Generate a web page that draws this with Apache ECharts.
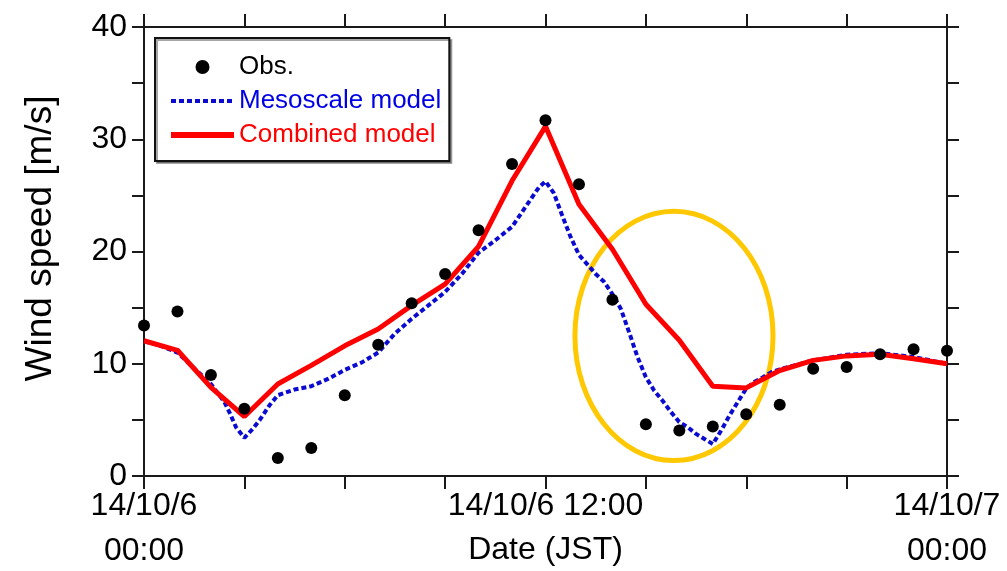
<!DOCTYPE html>
<html>
<head>
<meta charset="utf-8">
<script src="https://cdn.jsdelivr.net/npm/echarts@6/dist/echarts.min.js"></script>
<style>
  html, body { margin: 0; padding: 0; background: #fff; }
  #myChart { width: 1007px; height: 571px; }
</style>
</head>
<body>
<div id="myChart"></div>
<script>
// hours after 14/10/6 00:00 JST
var hours = [0, 1, 2, 3, 4, 5, 6, 7, 8, 9, 10, 11, 12, 13, 14, 15, 16, 17, 18, 19, 20, 21, 22, 23, 24]
var obs = [13.4, 14.65, 9.0, 6.0, 1.6, 2.5, 7.2, 11.7, 15.4, 18.0, 21.9, 27.8, 31.7, 26.0, 15.7, 4.6, 4.05, 4.4, 5.5, 6.35, 9.55, 9.7, 10.85, 11.3, 11.15]
var combined = [12.05, 11.2, 7.9, 5.3, 8.2, 9.85, 11.6, 13.1, 15.2, 17.1, 20.45, 26.3, 31.15, 24.2, 20.2, 15.3, 12.1, 8.0, 7.85, 9.4, 10.3, 10.7, 10.85, 10.45, 10.0]
// mesoscale model has finer time steps
var mesoHours = [0, 0.5, 1, 1.5, 2, 2.4, 2.55, 2.75, 3, 3.25, 3.45, 3.75, 4, 4.5, 5, 5.5, 6, 6.5, 7, 7.5, 8, 8.5, 9, 9.5, 10, 10.5, 11, 11.5, 11.8, 12, 12.25, 12.5, 12.75, 13, 13.5, 13.75, 14, 14.25, 14.5, 14.75, 15, 15.25, 15.5, 15.75, 16, 16.25, 16.5, 16.75, 17, 17.25, 17.5, 17.75, 18, 18.25, 18.5, 18.75, 19, 20, 21, 22, 23, 24]
var mesoSpeed = [12.0, 11.6, 11.0, 9.6, 8.2, 6.6, 5.7, 4.35, 3.4, 4.2, 4.95, 6.3, 7.2, 7.7, 8.0, 8.65, 9.45, 10.1, 11.0, 12.7, 14.0, 15.2, 16.4, 18.0, 19.9, 21.0, 22.2, 24.4, 25.7, 26.25, 25.2, 23.2, 21.3, 19.7, 18.0, 17.3, 16.2, 14.9, 12.8, 10.6, 8.8, 7.6, 6.7, 5.7, 4.8, 4.35, 3.75, 3.3, 2.85, 4.05, 5.4, 6.6, 7.8, 8.4, 8.8, 9.25, 9.5, 10.3, 10.8, 10.95, 10.6, 10.0]
// x tick labels (only 00:00, 12:00, 24:00 labelled)
var tickHours = [0, 12, 24]
var tickText = ['14/10/6\n00:00', '14/10/6 12:00', '14/10/7\n00:00']
// highlight ellipse: center hour, center speed, half width (h), half height (m/s)
var ellipse = [15.84, 12.48, 2.96, 11.1]

var font = 'Liberation Sans, Arial, sans-serif'
var axisColor = '#1a1a1a'
var blue = '#0a0ad0'
var red = '#ff0000'

function pairs(xs, ys) {
  var out = []
  for (var i = 0; i < xs.length; i++) {
    out.push([xs[i], ys[i]])
  }
  return out
}

var chart = echarts.init(document.getElementById('myChart'))

var xBase = {
  type: 'value',
  min: 0,
  max: 24,
  interval: 3,
  splitLine: { show: false },
  axisLine: { onZero: false, lineStyle: { color: axisColor, width: 2 } },
  axisTick: { inside: false, length: 13, lineStyle: { color: axisColor, width: 2 } }
}
var yBase = {
  type: 'value',
  min: 0,
  max: 40,
  interval: 5,
  splitLine: { show: false },
  axisLine: { onZero: false, lineStyle: { color: axisColor, width: 2 } },
  axisTick: { inside: false, length: 12, lineStyle: { color: axisColor, width: 2 } }
}

chart.setOption({
  animation: false,
  backgroundColor: '#fff',
  grid: { left: 144, right: 60, top: 27, bottom: 95, containLabel: false, outerBoundsMode: 'none' },
  xAxis: [
    Object.assign({}, xBase, {
      position: 'bottom',
      name: 'Date (JST)',
      nameLocation: 'middle',
      nameGap: 58,
      nameMoveOverlap: false,
      nameTextStyle: { fontFamily: font, fontSize: 32, color: '#000' },
      axisLabel: {
        margin: 8,
        fontFamily: font,
        fontSize: 32,
        lineHeight: 45,
        color: '#000',
        formatter: function (v) {
          var k = tickHours.indexOf(v)
          return k >= 0 ? tickText[k] : ''
        }
      }
    }),
    Object.assign({}, xBase, {
      position: 'top',
      axisLabel: { show: false }
    })
  ],
  yAxis: [
    Object.assign({}, yBase, {
      position: 'left',
      name: 'Wind speed [m/s]',
      nameLocation: 'middle',
      nameGap: 85,
      nameMoveOverlap: false,
      nameTextStyle: { fontFamily: font, fontSize: 37, color: '#000', padding: [0, 0, 0, 26] },
      axisLabel: {
        margin: 17,
        fontFamily: font,
        fontSize: 32,
        color: '#000',
        formatter: function (v) {
          return v % 10 === 0 ? String(v) : ''
        }
      }
    }),
    Object.assign({}, yBase, {
      position: 'right',
      axisLabel: { show: false }
    })
  ],
  legend: {
    orient: 'vertical',
    left: 155,
    top: 38,
    padding: [16, 8, 13, 13],
    itemWidth: 63,
    itemHeight: 14,
    itemGap: 8,
    backgroundColor: '#fff',
    borderColor: '#111',
    borderWidth: 2,
    borderRadius: 0,
    shadowColor: 'rgba(0,0,0,0.35)',
    shadowOffsetX: 2,
    shadowOffsetY: 2,
    shadowBlur: 0,
    selectedMode: false,
    textStyle: { fontFamily: font, fontSize: 26, lineHeight: 26 },
    data: [
      { name: 'Obs.', textStyle: { color: '#000' } },
      { name: 'Mesoscale model', textStyle: { color: '#0000e6' }, lineStyle: { width: 4 } },
      { name: 'Combined model', textStyle: { color: red }, lineStyle: { width: 6 } }
    ]
  },
  series: [
    {
      name: 'highlight',
      type: 'custom',
      z: 1,
      silent: true,
      clip: false,
      data: [ellipse],
      renderItem: function (params, api) {
        var c = api.coord([api.value(0), api.value(1)])
        var e = api.coord([api.value(0) + api.value(2), api.value(1) + api.value(3)])
        return {
          type: 'ellipse',
          shape: { cx: c[0], cy: c[1], rx: Math.abs(e[0] - c[0]), ry: Math.abs(c[1] - e[1]) },
          style: { fill: 'none', stroke: '#ffc800', lineWidth: 5 }
        }
      }
    },
    {
      name: 'Mesoscale model',
      type: 'line',
      z: 3,
      symbol: 'none',
      data: pairs(mesoHours, mesoSpeed),
      lineStyle: { color: blue, width: 4, type: [5, 3] },
      // transparent so the legend shows only the dashed line
      itemStyle: { color: 'rgba(0,0,0,0)' }
    },
    {
      name: 'Combined model',
      type: 'line',
      z: 4,
      symbol: 'none',
      data: pairs(hours, combined),
      lineStyle: { color: red, width: 5 },
      itemStyle: { color: 'rgba(0,0,0,0)' }
    },
    {
      name: 'Obs.',
      type: 'scatter',
      z: 5,
      clip: false,
      symbol: 'circle',
      symbolSize: 12,
      data: pairs(hours, obs),
      itemStyle: { color: '#000', opacity: 1 }
    }
  ]
})
</script>
</body>
</html>
